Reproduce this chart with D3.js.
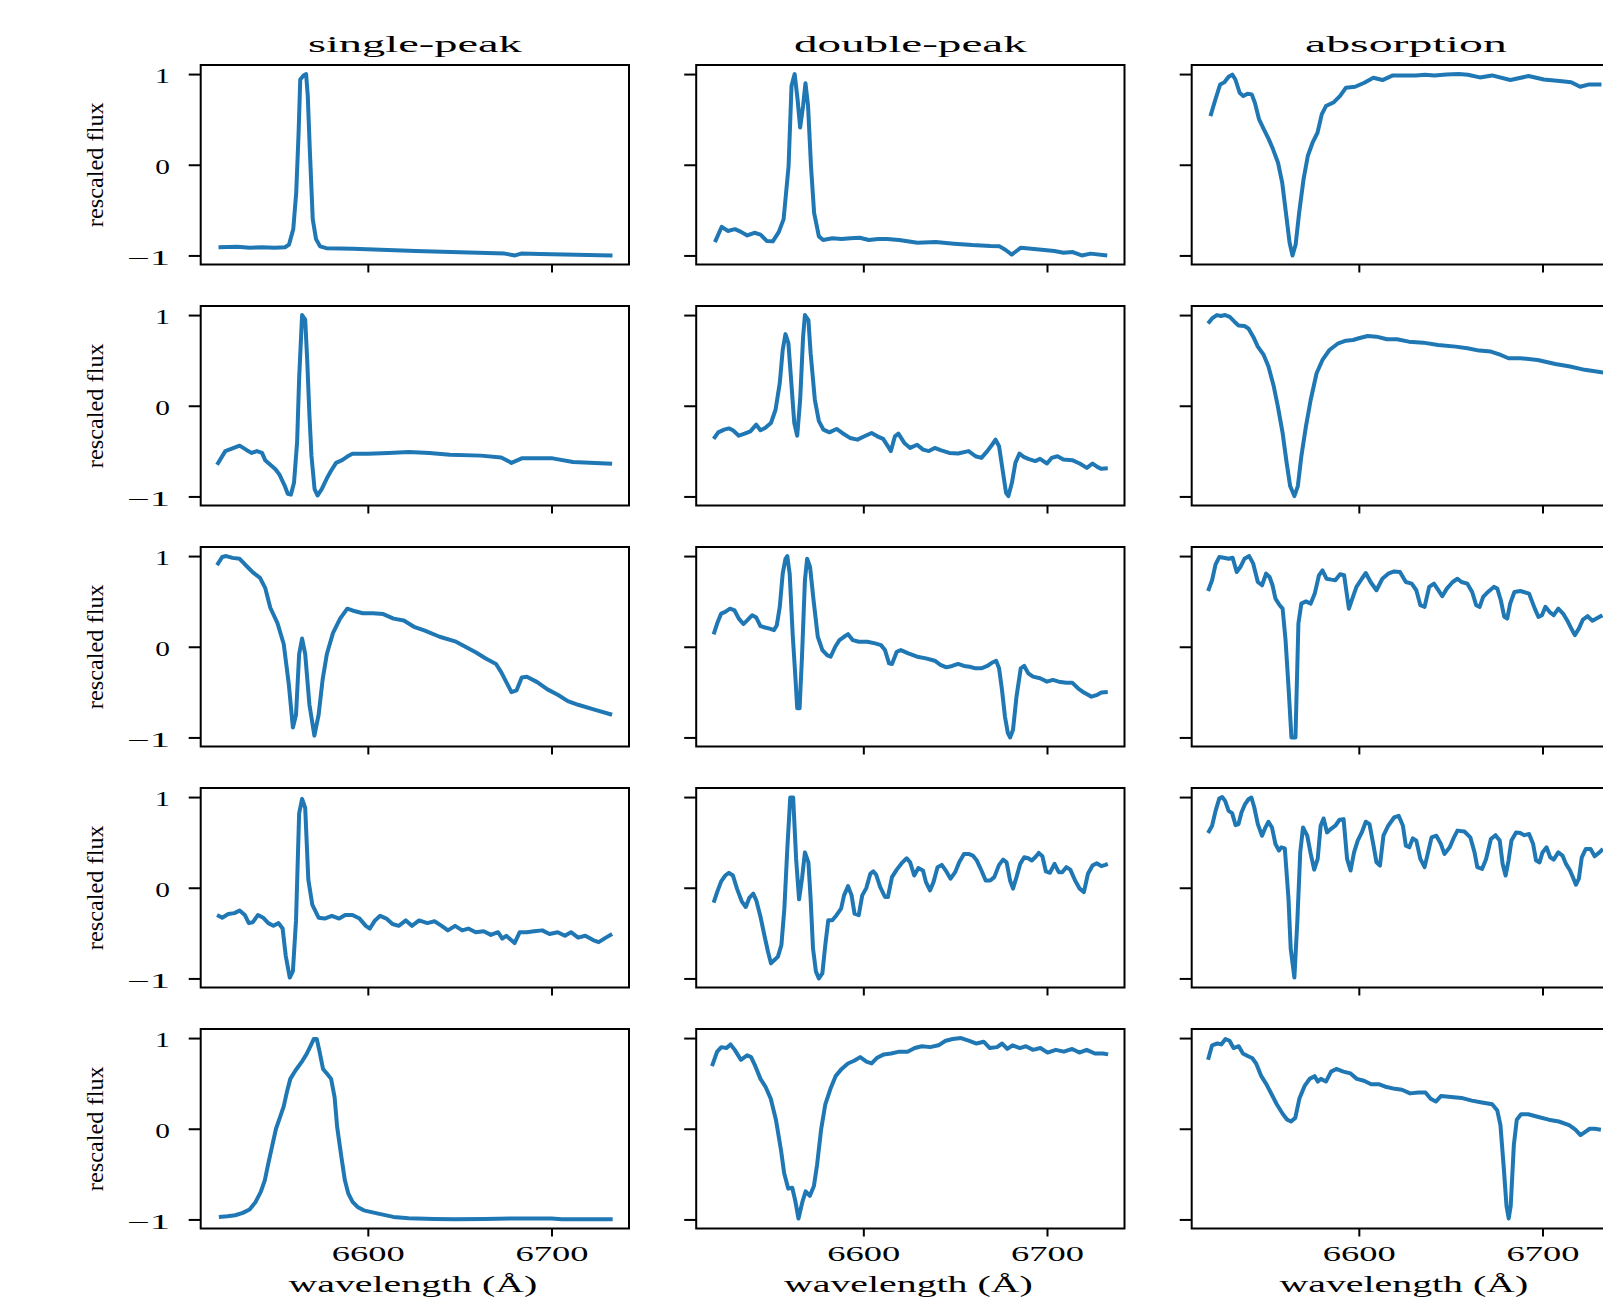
<!DOCTYPE html>
<html lang="en">
<head>
<meta charset="UTF-8">
<script src="https://d3js.org/d3.v7.min.js"></script>
<title>spectra</title>
<style>
  body { margin: 0; background: #fff; }
  text { font-family: "Liberation Serif", "DejaVu Serif", serif; fill: #000; }
</style>
</head>
<body>
<div id="container"></div>
<script>
// column titles and axis ticks
const classes = ["single-peak", "double-peak", "absorption"];
const xTicks = [6600, 6700];
const yTicks = [-1, 0, 1];
const xDomain = [6509, 6742.2];
const yDomain = [-1.1, 1.1];

// spectra, [wavelength, rescaled flux]
const sp1 = [[6518.7,-0.91],[6528.9,-0.905],[6535.7,-0.915],[6542.4,-0.91],[6549.2,-0.915],[6554.9,-0.91],[6557.1,-0.88],[6559.4,-0.71],[6561,-0.31],[6562.3,0.35],[6563.2,0.94],[6565,0.985],[6566.4,1],[6567.3,0.76],[6568.4,0.17],[6570,-0.6],[6571.8,-0.82],[6574,-0.9],[6577.4,-0.92],[6592,-0.925],[6626,-0.95],[6674.5,-0.98],[6680.1,-1],[6683.5,-0.98],[6693.7,-0.985],[6733.2,-1]];
const sp2 = [[6517.9,-0.65],[6522.4,-0.5],[6526.3,-0.47],[6530.2,-0.44],[6534.1,-0.49],[6536.8,-0.52],[6539.6,-0.5],[6542.4,-0.52],[6544.1,-0.6],[6546.9,-0.65],[6549.7,-0.7],[6551.9,-0.76],[6554.7,-0.88],[6556.4,-0.97],[6558.1,-0.98],[6559.8,-0.85],[6561.5,-0.4],[6562.6,0.3],[6564.2,1],[6565.9,0.95],[6567,0.5],[6568.2,-0.1],[6569.3,-0.55],[6571,-0.92],[6572.6,-0.99],[6574.9,-0.92],[6577.7,-0.8],[6579.9,-0.72],[6582.7,-0.63],[6586,-0.6],[6588.8,-0.56],[6591.6,-0.53],[6600,-0.53],[6611.2,-0.52],[6622.3,-0.51],[6633.5,-0.52],[6644.7,-0.54],[6661.5,-0.55],[6672.6,-0.57],[6678.2,-0.63],[6683.8,-0.58],[6700.6,-0.58],[6711.7,-0.62],[6733,-0.64]];
const sp3 = [[6517.9,0.9],[6520.7,0.99],[6522.9,1],[6526.3,0.98],[6530.2,0.97],[6533,0.91],[6537.4,0.82],[6541.3,0.76],[6544.1,0.65],[6546.9,0.43],[6550.8,0.26],[6554.2,0.03],[6557,-0.42],[6559.2,-0.89],[6560.9,-0.75],[6562.6,-0.08],[6564.2,0.09],[6565.9,-0.08],[6568.2,-0.64],[6570.9,-0.98],[6573.2,-0.75],[6575.4,-0.36],[6577.7,-0.08],[6581,0.15],[6584.9,0.31],[6588.8,0.42],[6591.6,0.4],[6597.2,0.37],[6602.8,0.37],[6608.4,0.36],[6614,0.31],[6619.6,0.29],[6625.1,0.22],[6630.7,0.18],[6639.1,0.11],[6647.5,0.06],[6653.1,0],[6658.7,-0.06],[6664.2,-0.13],[6669.8,-0.19],[6672.6,-0.28],[6675.4,-0.39],[6678.2,-0.5],[6681,-0.48],[6683.8,-0.34],[6686.6,-0.33],[6692.2,-0.39],[6697.8,-0.47],[6703.4,-0.53],[6708.9,-0.6],[6714.5,-0.64],[6722.9,-0.69],[6733,-0.75]];
const sp4 = [[6517.9,-0.3],[6520.7,-0.33],[6524,-0.29],[6527.4,-0.28],[6530.2,-0.25],[6533,-0.3],[6535.2,-0.39],[6537.4,-0.38],[6540.2,-0.3],[6543,-0.33],[6545.8,-0.39],[6548.6,-0.42],[6551.4,-0.39],[6553.6,-0.45],[6555.3,-0.75],[6557.5,-0.99],[6559.2,-0.92],[6560.9,-0.36],[6562.6,0.82],[6564.2,0.98],[6565.9,0.88],[6567.6,0.09],[6569.8,-0.19],[6573.2,-0.33],[6576.5,-0.34],[6580.4,-0.31],[6584.4,-0.34],[6587.7,-0.3],[6591.6,-0.3],[6595.5,-0.34],[6598.9,-0.42],[6601.1,-0.45],[6603.9,-0.36],[6606.7,-0.31],[6610.1,-0.34],[6613.4,-0.4],[6616.8,-0.42],[6620.7,-0.36],[6624,-0.42],[6627.9,-0.36],[6632.4,-0.39],[6636.3,-0.37],[6640.2,-0.42],[6643.6,-0.47],[6647.5,-0.42],[6651.4,-0.47],[6654.7,-0.45],[6658.7,-0.49],[6663.1,-0.48],[6667,-0.52],[6670.9,-0.49],[6673.2,-0.56],[6675.4,-0.53],[6678.2,-0.58],[6679.9,-0.61],[6682.7,-0.49],[6686.6,-0.49],[6690.5,-0.48],[6695,-0.47],[6698.9,-0.51],[6703.4,-0.49],[6707.3,-0.53],[6710.6,-0.49],[6714.5,-0.55],[6718.4,-0.53],[6722.9,-0.58],[6725.7,-0.6],[6729.6,-0.55],[6733,-0.51]];
const sp5 = [[6518.9,-0.972],[6523.6,-0.965],[6527.8,-0.954],[6531.9,-0.928],[6535.6,-0.89],[6538.9,-0.807],[6541.7,-0.697],[6543.9,-0.569],[6545.8,-0.385],[6547.8,-0.2],[6550,0],[6552.2,0.128],[6554.2,0.246],[6556.1,0.42],[6557.8,0.55],[6560.6,0.642],[6563.9,0.734],[6566.7,0.826],[6568.9,0.917],[6570.6,0.99],[6572.2,0.99],[6573.6,0.862],[6575.6,0.66],[6577.8,0.606],[6580,0.55],[6581.9,0.349],[6583.3,0.018],[6585.6,-0.312],[6587.5,-0.569],[6589.4,-0.716],[6591.7,-0.807],[6594.4,-0.862],[6597.8,-0.9],[6605.6,-0.936],[6613.9,-0.972],[6622.2,-0.987],[6636.1,-0.994],[6647.2,-0.998],[6663.9,-0.994],[6677.8,-0.99],[6700,-0.99],[6705.6,-0.998],[6733.3,-0.998]];

const dp1 = [[6519.2,-0.853],[6522.9,-0.684],[6526.2,-0.73],[6530.1,-0.71],[6533.4,-0.74],[6536.8,-0.78],[6540.7,-0.75],[6544,-0.77],[6547.4,-0.84],[6550.7,-0.845],[6554,-0.74],[6556.6,-0.6],[6559.3,-0.015],[6560.9,0.87],[6562.6,1],[6564.2,0.72],[6565.6,0.41],[6567.2,0.65],[6568.5,0.9],[6569.9,0.65],[6571.5,-0.015],[6573.2,-0.53],[6575.8,-0.79],[6578.1,-0.83],[6583.1,-0.81],[6588.1,-0.82],[6593,-0.81],[6598,-0.805],[6603,-0.83],[6608,-0.82],[6612.9,-0.82],[6619.5,-0.83],[6629.5,-0.86],[6639.4,-0.853],[6649.3,-0.87],[6659.3,-0.886],[6669.2,-0.897],[6674.2,-0.9],[6677.5,-0.94],[6680.8,-0.99],[6685.8,-0.915],[6695.7,-0.934],[6704,-0.952],[6709,-0.97],[6714,-0.963],[6718.9,-1],[6723.8,-0.98],[6732.8,-1]];
const dp2 = [[6518.5,-0.366],[6521,-0.293],[6524.2,-0.264],[6526.8,-0.25],[6529,-0.27],[6532.2,-0.33],[6535.4,-0.308],[6538.5,-0.282],[6541.7,-0.209],[6544,-0.27],[6546.5,-0.245],[6549.7,-0.19],[6552.2,-0.044],[6554.5,0.249],[6556.1,0.615],[6557.6,0.79],[6559.2,0.69],[6560.8,0.249],[6562.4,-0.19],[6564,-0.33],[6565.6,0.066],[6567.2,0.76],[6568.2,1],[6570.1,0.945],[6571.3,0.58],[6573.6,0.066],[6575.8,-0.17],[6578.3,-0.264],[6581.5,-0.293],[6585.4,-0.256],[6588.5,-0.3],[6592.7,-0.355],[6596.8,-0.374],[6600.6,-0.337],[6604.5,-0.3],[6607.6,-0.337],[6610.8,-0.366],[6613.4,-0.447],[6615,-0.5],[6617.2,-0.337],[6619.1,-0.308],[6622.3,-0.41],[6625.5,-0.465],[6629.3,-0.43],[6632.5,-0.484],[6635.7,-0.5],[6638.9,-0.465],[6642,-0.49],[6646.8,-0.52],[6651.6,-0.527],[6657.3,-0.5],[6661.1,-0.557],[6664.3,-0.575],[6667.5,-0.5],[6670.1,-0.43],[6672,-0.374],[6673.9,-0.447],[6675.8,-0.703],[6677.7,-0.96],[6679,-0.996],[6680.9,-0.85],[6682.8,-0.63],[6685,-0.527],[6687.3,-0.564],[6689.8,-0.586],[6693.6,-0.61],[6696.2,-0.586],[6700,-0.637],[6702.5,-0.575],[6705.7,-0.557],[6708.9,-0.593],[6713.7,-0.6],[6717.8,-0.637],[6721.7,-0.685],[6724.8,-0.637],[6727.4,-0.674],[6729.6,-0.696],[6733.1,-0.69]];
const dp3 = [[6518.5,0.136],[6520.4,0.256],[6522.6,0.366],[6524.8,0.385],[6527.4,0.42],[6529.9,0.4],[6532.2,0.31],[6534.7,0.25],[6536.9,0.293],[6539.5,0.348],[6541.7,0.322],[6544,0.227],[6546.5,0.212],[6549,0.2],[6551.3,0.183],[6552.9,0.238],[6554.5,0.44],[6556.1,0.806],[6557.6,0.97],[6558.6,1],[6559.9,0.806],[6561.5,0.146],[6563.1,-0.366],[6564,-0.678],[6565.3,-0.678],[6566.6,-0.11],[6568.2,0.733],[6569.4,0.97],[6571,0.88],[6572.9,0.513],[6575.2,0.11],[6577.7,-0.037],[6580.3,-0.092],[6582.2,-0.11],[6584.7,0],[6587,0.073],[6589.5,0.11],[6591.7,0.139],[6594.3,0.073],[6597.5,0.055],[6602.2,0.055],[6606.4,0.037],[6609.6,0.018],[6611.8,-0.037],[6614,-0.183],[6615.6,-0.19],[6618.2,-0.055],[6620.4,-0.037],[6624.5,-0.073],[6629.3,-0.11],[6634.1,-0.128],[6638.9,-0.154],[6642,-0.2],[6645.2,-0.227],[6648.4,-0.212],[6651.6,-0.19],[6654.8,-0.212],[6657.9,-0.22],[6661.1,-0.238],[6664.3,-0.238],[6667.5,-0.212],[6670.1,-0.176],[6672.3,-0.154],[6673.9,-0.238],[6675.5,-0.476],[6677.1,-0.77],[6678.7,-0.952],[6679.9,-1],[6681.5,-0.916],[6683.4,-0.55],[6685.7,-0.238],[6687.6,-0.212],[6689.8,-0.293],[6692.4,-0.33],[6696.2,-0.348],[6700,-0.385],[6703.2,-0.366],[6706.4,-0.385],[6710.5,-0.396],[6713.7,-0.396],[6716.9,-0.458],[6720.1,-0.505],[6724.2,-0.55],[6727.4,-0.53],[6729.6,-0.505],[6733.1,-0.498]];
const dp4 = [[6518.5,-0.165],[6520.4,-0.048],[6522.6,0.07],[6524.8,0.135],[6526.8,0.165],[6529,0.135],[6531.2,-0.01],[6533.8,-0.15],[6536,-0.212],[6537.9,-0.113],[6540.1,-0.066],[6541.7,-0.139],[6544,-0.32],[6546.5,-0.56],[6548.1,-0.706],[6549.7,-0.834],[6551.6,-0.797],[6553.5,-0.76],[6555.4,-0.63],[6557,-0.23],[6558.6,0.428],[6560.2,0.995],[6561.8,0.995],[6563.4,0.318],[6565,-0.128],[6566.6,0.1],[6568.2,0.39],[6570.1,0.28],[6571.3,-0.12],[6572.6,-0.67],[6574.2,-0.925],[6575.8,-1],[6577.7,-0.943],[6579.3,-0.63],[6580.9,-0.358],[6583.1,-0.358],[6585.4,-0.303],[6587.9,-0.23],[6589.5,-0.084],[6591.7,0.018],[6593.6,-0.084],[6595.2,-0.285],[6597.5,-0.303],[6599.4,-0.084],[6601.6,-0.004],[6603.8,0.154],[6605.4,0.18],[6607,0.143],[6609.2,0.007],[6611.8,-0.102],[6613.4,-0.102],[6615.6,0.117],[6618.2,0.2],[6621.3,0.28],[6623.6,0.325],[6625.5,0.28],[6627.7,0.135],[6629.9,0.216],[6632.5,0.19],[6634.1,0.062],[6636.3,-0.03],[6638.2,0.062],[6640.4,0.227],[6642.7,0.252],[6645.2,0.18],[6647.5,0.1],[6650,0.172],[6652.2,0.28],[6654.8,0.373],[6657.3,0.373],[6659.6,0.355],[6661.8,0.3],[6664.3,0.19],[6666.6,0.08],[6669.1,0.08],[6671.3,0.117],[6673.9,0.252],[6676.1,0.31],[6678,0.28],[6679.9,0.08],[6681.5,-0.01],[6683.4,0.117],[6685.4,0.263],[6687.6,0.336],[6689.8,0.325],[6691.7,0.3],[6693.6,0.336],[6695.5,0.384],[6697.5,0.347],[6699.4,0.18],[6701.6,0.165],[6704.1,0.263],[6706.4,0.172],[6708.3,0.172],[6710.5,0.227],[6712.7,0.2],[6715.3,0.08],[6717.8,-0.01],[6720.1,-0.048],[6722.3,0.154],[6724.8,0.245],[6727.1,0.27],[6729.6,0.238],[6731.8,0.252],[6733.1,0.263]];
const dp5 = [[6517.6,0.69],[6520.4,0.85],[6522.7,0.9],[6525.5,0.89],[6527.7,0.93],[6530,0.87],[6533.3,0.76],[6536.7,0.81],[6538.9,0.79],[6541.2,0.69],[6544,0.55],[6546.8,0.46],[6549.6,0.33],[6552.4,0.1],[6555.2,-0.24],[6556.9,-0.49],[6559.1,-0.66],[6561.3,-0.65],[6563,-0.8],[6564.7,-0.99],[6566.9,-0.8],[6568.6,-0.69],[6570.9,-0.74],[6573.1,-0.63],[6574.8,-0.4],[6577,-0.01],[6579.3,0.27],[6582.1,0.44],[6584.9,0.58],[6588.2,0.66],[6591.6,0.72],[6595,0.75],[6598.3,0.79],[6601.7,0.74],[6604.5,0.72],[6607.3,0.78],[6611.2,0.82],[6615.1,0.83],[6619.6,0.85],[6624.1,0.85],[6628,0.89],[6631.9,0.91],[6636.4,0.9],[6640.9,0.92],[6644.8,0.97],[6648.7,0.99],[6653.2,1],[6657.7,0.97],[6661.6,0.94],[6665.5,0.96],[6668.9,0.89],[6672.8,0.9],[6675.6,0.94],[6678.4,0.88],[6681.2,0.92],[6685.2,0.89],[6688.5,0.91],[6692.4,0.87],[6696.4,0.89],[6700.3,0.84],[6704.8,0.87],[6709.2,0.85],[6713.7,0.88],[6717.6,0.84],[6721.6,0.87],[6726.1,0.83],[6730.5,0.83],[6733.3,0.82]];

const ab1 = [[6519.2,0.537],[6521.9,0.72],[6524.5,0.886],[6526.8,0.91],[6529.1,0.97],[6531.1,0.993],[6532.8,0.94],[6535.1,0.794],[6537.1,0.757],[6539.4,0.783],[6541.7,0.776],[6543.4,0.684],[6545.7,0.5],[6548.3,0.39],[6551,0.28],[6553.3,0.17],[6556,0.022],[6558.3,-0.2],[6560.3,-0.53],[6562.3,-0.86],[6563.9,-1],[6565.6,-0.88],[6567.5,-0.53],[6569.9,-0.16],[6572.2,0.096],[6574.8,0.243],[6577.5,0.353],[6579.8,0.555],[6582.1,0.647],[6586.4,0.69],[6589.7,0.757],[6593,0.85],[6598,0.86],[6603,0.904],[6607.9,0.96],[6612.9,0.934],[6618.5,0.985],[6624.5,0.985],[6631.1,0.985],[6636.1,0.993],[6641.1,0.985],[6647.7,0.996],[6654.3,1],[6659.3,0.993],[6665.9,0.963],[6672.5,0.985],[6682.5,0.934],[6692.4,0.978],[6700.7,0.94],[6710.6,0.92],[6715.6,0.91],[6720.5,0.86],[6725.5,0.886],[6732.1,0.886]];
const ab2 = [[6517.9,0.908],[6520.1,0.963],[6522.7,1],[6524.9,0.989],[6527.2,1],[6529.7,0.98],[6532.3,0.927],[6534.5,0.886],[6537.7,0.879],[6539.9,0.853],[6542.5,0.762],[6545,0.652],[6548.2,0.56],[6550.8,0.432],[6553.7,0.212],[6555.9,-0.007],[6558.5,-0.3],[6560.7,-0.63],[6562.6,-0.886],[6564.9,-0.996],[6566.8,-0.886],[6568.7,-0.557],[6571.2,-0.227],[6573.8,0.066],[6577,0.359],[6580.2,0.505],[6584,0.615],[6588.8,0.689],[6593,0.718],[6596.8,0.725],[6600,0.744],[6604.8,0.769],[6609.6,0.762],[6615.3,0.733],[6620.8,0.733],[6627.2,0.707],[6635.1,0.696],[6643.1,0.67],[6652.7,0.652],[6659.1,0.634],[6665.5,0.608],[6671.9,0.597],[6677.3,0.56],[6681.5,0.524],[6687.9,0.524],[6697.4,0.505],[6707,0.46],[6715,0.432],[6723,0.396],[6729.4,0.377],[6733.5,0.366]];
const ab3 = [[6517.9,0.615],[6520.1,0.733],[6522,0.908],[6524,0.989],[6526.5,0.982],[6529.1,0.97],[6531.3,0.982],[6533.5,0.824],[6535.5,0.879],[6537.7,0.97],[6540.3,1],[6542.5,0.916],[6545,0.714],[6547.3,0.678],[6549.5,0.806],[6551.4,0.769],[6553,0.678],[6554.6,0.531],[6556.9,0.458],[6558.5,0.42],[6560.1,0.073],[6561.7,-0.44],[6563.3,-1],[6565.5,-1],[6567.1,0.256],[6568.7,0.476],[6571.2,0.5],[6573.8,0.476],[6576,0.586],[6578.3,0.788],[6580.2,0.842],[6582.4,0.75],[6585,0.74],[6587.2,0.733],[6589.8,0.8],[6592,0.788],[6594.6,0.42],[6596.8,0.55],[6598.7,0.66],[6601.6,0.75],[6603.8,0.813],[6606.4,0.714],[6609.6,0.623],[6612.8,0.75],[6616,0.806],[6619.2,0.83],[6622.4,0.824],[6625.6,0.714],[6628.8,0.696],[6631.3,0.623],[6633.5,0.458],[6635.8,0.44],[6638.3,0.66],[6640.9,0.696],[6643.1,0.63],[6645.4,0.557],[6647.9,0.641],[6651.1,0.714],[6653.7,0.75],[6655.9,0.714],[6659.1,0.696],[6661.7,0.604],[6663.9,0.458],[6665.8,0.44],[6667.7,0.55],[6670.3,0.604],[6673.5,0.66],[6675.4,0.641],[6677.3,0.513],[6679.2,0.33],[6680.8,0.311],[6682.4,0.476],[6684.7,0.604],[6687.9,0.615],[6692.7,0.586],[6695.8,0.42],[6697.8,0.33],[6699.7,0.348],[6701.6,0.44],[6703.8,0.385],[6706.1,0.348],[6708.6,0.42],[6711.2,0.366],[6713.4,0.293],[6715.7,0.2],[6717.6,0.128],[6719.8,0.2],[6722,0.3],[6724.6,0.337],[6727.2,0.286],[6729.4,0.311],[6732.6,0.348]];
const ab4 = [[6517.9,0.603],[6520.1,0.684],[6522,0.848],[6524,0.983],[6525.6,1],[6527.2,0.958],[6529.1,0.848],[6531,0.823],[6532.9,0.69],[6534.5,0.702],[6536.1,0.83],[6538,0.92],[6539.9,0.976],[6541.5,0.995],[6543.1,0.885],[6545,0.702],[6547.3,0.574],[6548.9,0.654],[6550.8,0.728],[6552.7,0.665],[6554.6,0.482],[6556.5,0.41],[6557.8,0.446],[6559.7,0.435],[6561.7,-0.12],[6562.9,-0.67],[6564.9,-0.99],[6566.5,-0.377],[6568.1,0.39],[6569.6,0.665],[6571.9,0.574],[6573.8,0.373],[6575.7,0.2],[6577.6,0.318],[6579.2,0.684],[6580.8,0.764],[6582.7,0.61],[6584.7,0.647],[6587.2,0.684],[6589.5,0.75],[6591.7,0.757],[6593.6,0.318],[6595.5,0.19],[6597.4,0.39],[6599.4,0.52],[6601.6,0.61],[6603.8,0.728],[6605.8,0.702],[6608,0.464],[6609.6,0.28],[6611.5,0.245],[6613.4,0.574],[6616,0.684],[6619.2,0.775],[6621.7,0.793],[6624,0.684],[6625.6,0.464],[6627.5,0.446],[6629.4,0.545],[6631.3,0.52],[6633.5,0.318],[6635.8,0.227],[6637.7,0.39],[6639.6,0.556],[6642.2,0.574],[6644.7,0.482],[6646.6,0.373],[6649.5,0.446],[6651.8,0.556],[6653.7,0.63],[6657.5,0.62],[6660.7,0.556],[6663,0.39],[6664.5,0.227],[6667.1,0.208],[6669.3,0.318],[6671.9,0.537],[6674.4,0.58],[6676.7,0.52],[6678.3,0.263],[6679.9,0.135],[6681.5,0.3],[6683.1,0.52],[6685.6,0.61],[6687.9,0.603],[6690.1,0.58],[6692.7,0.592],[6694.9,0.482],[6696.5,0.3],[6698.4,0.28],[6700,0.39],[6702.2,0.446],[6704.2,0.336],[6706.1,0.31],[6708.6,0.39],[6710.9,0.355],[6712.8,0.263],[6715,0.19],[6716.9,0.1],[6718.2,0.033],[6719.8,0.1],[6721.4,0.336],[6723.6,0.428],[6726.2,0.428],[6728.4,0.347],[6731,0.39],[6732.9,0.428]];
const ab5 = [[6517.9,0.76],[6520.1,0.92],[6522.9,0.94],[6525.1,0.93],[6527.4,0.99],[6529.6,0.97],[6531.8,0.89],[6534.6,0.91],[6536.9,0.83],[6539.7,0.8],[6541.9,0.78],[6544.1,0.72],[6546.9,0.58],[6549.7,0.49],[6552.5,0.38],[6555.3,0.27],[6558.7,0.16],[6561,0.1],[6563.1,0.08],[6565.4,0.12],[6567.6,0.33],[6570.4,0.47],[6573.2,0.55],[6575.9,0.58],[6577.7,0.52],[6579.3,0.55],[6582.1,0.52],[6584.9,0.63],[6587.7,0.66],[6591.6,0.63],[6595.5,0.61],[6598.9,0.55],[6602.8,0.53],[6606.7,0.49],[6611.2,0.49],[6615.1,0.46],[6619.6,0.44],[6623.5,0.43],[6627.9,0.39],[6632.4,0.4],[6636.3,0.4],[6639.1,0.33],[6641.9,0.3],[6644.7,0.36],[6650.3,0.35],[6655.9,0.34],[6661.5,0.31],[6667,0.29],[6672.6,0.27],[6675.4,0.2],[6677.1,0.04],[6678.8,-0.4],[6680.4,-0.85],[6681.6,-0.99],[6682.7,-0.85],[6684.4,-0.18],[6686,0.1],[6688.3,0.16],[6692.2,0.16],[6697.8,0.13],[6703.4,0.1],[6708.9,0.08],[6714.5,0.04],[6717.9,-0.01],[6720.7,-0.07],[6722.9,-0.04],[6725.7,0],[6728.5,0],[6731.8,-0.01]];

const grid = [
    [sp1, dp1, ab1],
    [sp2, dp2, ab2],
    [sp3, dp3, ab3],
    [sp4, dp4, ab4],
    [sp5, dp5, ab5]
];

const width = 1603, height = 1298;
const colX = [200.7, 696.2, 1191.7], rowY = [65, 306, 547, 788, 1029];
const pw = 428.3, ph = 199.5;
const blue = "#1f77b4";

const svg = d3.select("#container")
    .append("svg")
    .attr("width", width)
    .attr("height", height)
    .style("display", "block");
svg.append("rect").attr("width", width).attr("height", height).attr("fill", "#fff");

const x = d3.scaleLinear().domain(xDomain).range([0, pw]);
const y = d3.scaleLinear().domain(yDomain).range([ph, 0]);
const line = d3.line().x(d => x(d[0])).y(d => y(d[1]));

// stretch a text element horizontally to a target width
function stretch(node, tx, ty, target) {
    const w = node.getComputedTextLength();
    const k = w > 0 ? target / w : 1;
    d3.select(node).attr("x", 0).attr("y", 0).attr("dy", null)
        .attr("transform", `translate(${tx},${ty}) scale(${k},1)`);
}

grid.forEach((row, r) => {
    row.forEach((spec, c) => {
        const g = svg.append("g").attr("transform", `translate(${colX[c]},${rowY[r]})`);

        // y axis
        const ya = g.append("g")
            .call(d3.axisLeft(y).tickValues(yTicks).tickSize(12).tickSizeOuter(0)
                .tickFormat(c === 0 ? d3.format("d") : ""));
        ya.select(".domain").remove();
        ya.selectAll(".tick line").attr("stroke", "#000").attr("stroke-width", 2);
        ya.selectAll(".tick text")
            .attr("font-family", "Liberation Serif")
            .attr("font-size", 20)
            .each(function (d) {
                if (c !== 0) return;
                const target = d < 0 ? 43 : (d === 0 ? 14.7 : 15);
                stretch(this, -30.7, 8.8, target);
            });

        // x axis
        const xa = g.append("g")
            .attr("transform", `translate(0,${ph})`)
            .call(d3.axisBottom(x).tickValues(xTicks).tickSize(8).tickSizeOuter(0)
                .tickFormat(r === 4 ? d3.format("d") : ""));
        xa.select(".domain").remove();
        xa.selectAll(".tick line").attr("stroke", "#000").attr("stroke-width", 2);
        xa.selectAll(".tick text")
            .attr("font-family", "Liberation Serif")
            .attr("font-size", 20)
            .each(function () {
                if (r !== 4) return;
                stretch(this, 0, 32, 73);
            });

        g.append("path")
            .datum(spec)
            .attr("d", line)
            .attr("fill", "none")
            .attr("stroke", blue)
            .attr("stroke-width", 4)
            .attr("stroke-linejoin", "round")
            .attr("stroke-linecap", "butt");

        g.append("rect")
            .attr("width", pw)
            .attr("height", ph)
            .attr("fill", "none")
            .attr("stroke", "#000")
            .attr("stroke-width", 2);
    });

    // row y label
    const yl = svg.append("text")
        .attr("font-size", 24)
        .attr("text-anchor", "middle")
        .text("rescaled flux");
    const lw = yl.node().getComputedTextLength();
    yl.attr("transform", `translate(103,${rowY[r] + ph / 2}) rotate(-90) scale(${125 / lw},1)`);
});

// column titles and x labels
const titleW = [214, 233, 202];
classes.forEach((name, c) => {
    const t = svg.append("text")
        .attr("font-size", 24)
        .attr("text-anchor", "middle")
        .text(name);
    stretch(t.node(), colX[c] + pw / 2, 52, titleW[c]);

    const xl = svg.append("text")
        .attr("font-size", 24)
        .attr("text-anchor", "middle")
        .text("wavelength (Å)");
    stretch(xl.node(), colX[c] + pw / 2 - 2, 1292, 249);
});
</script>
</body>
</html>
